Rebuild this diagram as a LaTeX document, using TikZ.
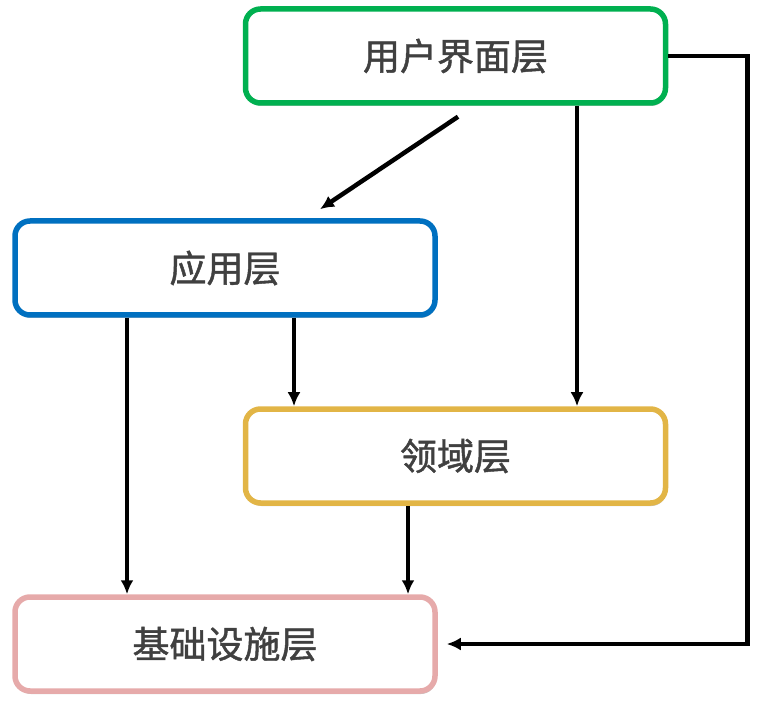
\documentclass[tikz,border=0pt]{standalone}
\usepackage{fontspec}
\newfontfamily\cjk[FakeBold=1.2]{Noto Sans CJK SC}
\usetikzlibrary{arrows.meta,shadows,calc}
\definecolor{cgreen}{RGB}{0,176,80}
\definecolor{cblue}{RGB}{0,112,192}
\definecolor{cgold}{RGB}{226,181,70}
\definecolor{cpink}{RGB}{230,170,170}
\definecolor{ctext}{RGB}{64,64,64}
\tikzset{
  layer/.style={draw=#1, line width=5.5pt, rounded corners=15pt, fill=white,
    minimum width=420pt, minimum height=94pt, inner sep=0pt,
    font=\cjk\fontsize{37pt}{42pt}\selectfont, text=ctext,
    drop shadow={shadow xshift=1pt, shadow yshift=-3pt, opacity=0.22, fill=black}},
  conn/.style={line width=4.5pt, -{Latex[length=14pt,width=13pt]}},
}
\begin{document}
\begin{tikzpicture}[x=1pt,y=1pt]
\useasboundingbox (0,0) rectangle (760,713);
\node[layer=cgreen] (ui) at (455.5,657) {用户界面层};
\node[layer=cblue] (app) at (225,445) {应用层};
\node[layer=cgold] (dom) at (455.5,257) {领域层};
\node[layer=cpink] (inf) at (225,69) {基础设施层};
% connectors
\draw[conn] ([xshift=2.5pt,yshift=-11pt]ui.south) -- ([xshift=95pt,yshift=9pt]app.north);
\draw[conn] ([xshift=121.5pt]ui.south) -- ([xshift=121.5pt]dom.north);
\draw[conn] (ui.east) -- ++(79pt,0) |- ([xshift=9pt]inf.east);
\draw[conn] ([xshift=-98pt]app.south) -- ([xshift=-98pt]inf.north);
\draw[conn] ([xshift=69pt]app.south) -- ([xshift=69pt]app.south |- dom.north);
\draw[conn] ([xshift=-47.5pt]dom.south) -- ([xshift=-47.5pt]dom.south |- inf.north);
\end{tikzpicture}
\end{document}
